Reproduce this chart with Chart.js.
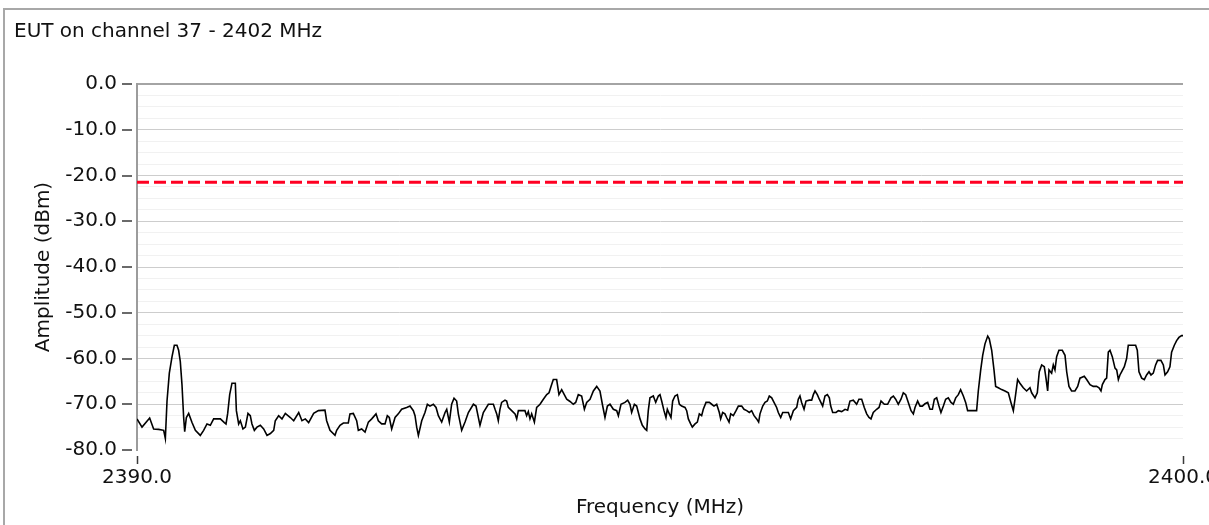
<!DOCTYPE html>
<html lang="en">
<head>
<meta charset="UTF-8">
<title>EUT on channel 37 - 2402 MHz</title>
<script src="https://cdn.jsdelivr.net/npm/chart.js"></script>
<style>
  html, body { margin: 0; padding: 0; background: #fff; overflow: hidden; }
  #wrap { position: relative; width: 1209px; height: 525px; overflow: hidden; }
  /* grey panel frame, only its top and left edges fall inside the window */
  #frame { position: absolute; left: 3px; top: 8px; width: 1300px; height: 600px; border: 2px solid #a8a8a8; pointer-events: none; }
  #spectrum { position: absolute; left: 0; top: 0; }
</style>
</head>
<body>
<div id="wrap">
  <div id="frame"></div>
  <canvas id="spectrum" width="1209" height="525"></canvas>
</div>
<script>
// sweep 2390 - 2400 MHz, restricted band edge
const freqMHz = [
  2390.000, 2390.048, 2390.121, 2390.159, 2390.207, 2390.255, 2390.271, 2390.287, 2390.309, 2390.335,
  2390.357, 2390.382, 2390.398, 2390.414, 2390.430, 2390.446, 2390.456, 2390.472, 2390.494, 2390.526,
  2390.558, 2390.605, 2390.637, 2390.669, 2390.701, 2390.733, 2390.797, 2390.835, 2390.851, 2390.867,
  2390.886, 2390.908, 2390.940, 2390.950, 2390.972, 2390.988, 2391.013, 2391.036, 2391.061, 2391.083,
  2391.099, 2391.122, 2391.147, 2391.179, 2391.211, 2391.243, 2391.275, 2391.307, 2391.322, 2391.354,
  2391.386, 2391.418, 2391.466, 2391.498, 2391.546, 2391.577, 2391.609, 2391.641, 2391.689,
  2391.734, 2391.797, 2391.813, 2391.845, 2391.893, 2391.909, 2391.941, 2391.973, 2392.020, 2392.036,
  2392.068, 2392.100, 2392.116, 2392.148, 2392.180, 2392.212, 2392.244, 2392.285, 2392.307, 2392.339,
  2392.371, 2392.393, 2392.412, 2392.435, 2392.467, 2392.498, 2392.530, 2392.578, 2392.610, 2392.642,
  2392.658, 2392.674, 2392.690, 2392.722, 2392.753, 2392.776, 2392.801, 2392.833, 2392.859, 2392.881,
  2392.913, 2392.945, 2392.961, 2392.986, 2393.008, 2393.031, 2393.056, 2393.072, 2393.104, 2393.136,
  2393.168, 2393.216, 2393.241, 2393.279, 2393.311,
  2393.359, 2393.407, 2393.423, 2393.439, 2393.454, 2393.470, 2393.486, 2393.518, 2393.534, 2393.550,
  2393.582, 2393.614, 2393.630, 2393.646, 2393.709, 2393.725, 2393.741, 2393.757, 2393.773, 2393.799,
  2393.821, 2393.853, 2393.885, 2393.917, 2393.939, 2393.958, 2393.980, 2394.012, 2394.034, 2394.060,
  2394.085, 2394.108, 2394.140, 2394.171, 2394.194, 2394.219, 2394.251, 2394.277, 2394.299, 2394.331,
  2394.363, 2394.395, 2394.426, 2394.449, 2394.474, 2394.497, 2394.522, 2394.554, 2394.586, 2394.602,
  2394.627, 2394.665, 2394.691, 2394.713, 2394.729, 2394.755, 2394.777, 2394.809, 2394.831, 2394.857,
  2394.873, 2394.888, 2394.904, 2394.936, 2394.959, 2394.984, 2395.000,
  2395.016, 2395.038, 2395.057, 2395.070, 2395.089, 2395.105, 2395.121, 2395.143, 2395.166, 2395.185,
  2395.207, 2395.239, 2395.255, 2395.271, 2395.293, 2395.309, 2395.335, 2395.357, 2395.376, 2395.398,
  2395.414, 2395.440, 2395.472, 2395.494, 2395.516, 2395.542, 2395.567, 2395.580, 2395.599, 2395.621,
  2395.637, 2395.660, 2395.676, 2395.701, 2395.727, 2395.749, 2395.781, 2395.803, 2395.829, 2395.854,
  2395.876, 2395.899, 2395.924, 2395.943, 2395.956, 2395.982, 2396.004, 2396.026, 2396.045, 2396.068,
  2396.090, 2396.115, 2396.131, 2396.154, 2396.173, 2396.205, 2396.227, 2396.249, 2396.275, 2396.307,
  2396.322, 2396.338, 2396.354, 2396.377, 2396.396, 2396.428, 2396.450, 2396.466, 2396.482, 2396.504,
  2396.523, 2396.555, 2396.577, 2396.600, 2396.619, 2396.632, 2396.651, 2396.683,
  2396.705, 2396.737, 2396.769, 2396.794, 2396.816, 2396.848, 2396.880, 2396.902, 2396.928, 2396.953,
  2396.976, 2396.998, 2397.017, 2397.039, 2397.071, 2397.094, 2397.113, 2397.145, 2397.176, 2397.208,
  2397.231, 2397.253, 2397.278, 2397.304, 2397.326, 2397.349, 2397.374, 2397.400, 2397.422, 2397.438,
  2397.463, 2397.486, 2397.508, 2397.533, 2397.559, 2397.581, 2397.604, 2397.623, 2397.645, 2397.667,
  2397.686, 2397.709, 2397.731, 2397.756, 2397.782, 2397.804, 2397.827, 2397.852, 2397.874, 2397.900,
  2397.922, 2397.941, 2397.980, 2398.027, 2398.043, 2398.066, 2398.085, 2398.107, 2398.133, 2398.148,
  2398.171, 2398.193, 2398.209, 2398.234, 2398.266, 2398.298,
  2398.330, 2398.355, 2398.378, 2398.394, 2398.419, 2398.441, 2398.473, 2398.505, 2398.537, 2398.553,
  2398.585, 2398.607, 2398.626, 2398.649, 2398.674, 2398.690, 2398.706, 2398.719, 2398.744, 2398.760,
  2398.776, 2398.792, 2398.814, 2398.846, 2398.872, 2398.888, 2398.910, 2398.935, 2398.967, 2398.993,
  2399.015, 2399.056, 2399.079, 2399.111, 2399.142, 2399.174, 2399.197, 2399.216, 2399.229, 2399.254,
  2399.270, 2399.286, 2399.302, 2399.324, 2399.350, 2399.366, 2399.382, 2399.397, 2399.413, 2399.439,
  2399.461, 2399.477, 2399.509, 2399.547, 2399.563, 2399.579, 2399.605, 2399.630, 2399.652, 2399.675,
  2399.694, 2399.716, 2399.738, 2399.757, 2399.789, 2399.812, 2399.828, 2399.853, 2399.875, 2399.891,
  2399.917, 2399.939, 2399.961, 2399.987, 2400.000
];

// measured peak level, dBm
const amplitudeDbm = [
  -73.2, -75.0, -73.0, -75.4, -75.5, -75.7, -77.5, -69.3, -63.2, -59.6,
  -57.1, -57.1, -58.2, -60.7, -65.7, -72.9, -76.0, -72.9, -72.0, -74.0,
  -75.7, -76.8, -75.7, -74.3, -74.6, -73.2, -73.2, -74.0, -74.3, -72.0,
  -67.9, -65.4, -65.4, -71.4, -74.3, -73.6, -75.4, -75.0, -72.0, -72.5,
  -74.3, -75.7, -75.0, -74.6, -75.4, -76.8, -76.4, -75.7, -73.6, -72.5,
  -73.2, -72.0, -72.9, -73.6, -71.8, -73.6, -73.2, -74.0, -72.0,
  -71.4, -71.3, -73.6, -75.7, -76.8, -75.7, -74.6, -74.1, -74.1, -72.1,
  -72.0, -73.6, -75.7, -75.4, -76.1, -73.9, -73.2, -72.1, -73.6, -74.3,
  -74.3, -72.5, -72.9, -75.4, -72.9, -72.1, -71.1, -70.7, -70.4, -71.4,
  -72.5, -75.0, -76.8, -73.6, -71.8, -70.0, -70.4, -70.0, -70.7, -72.5,
  -73.9, -71.8, -71.1, -73.9, -70.0, -68.7, -69.3, -72.1, -75.7, -73.9,
  -71.8, -70.0, -70.4, -74.6, -71.8,
  -70.0, -70.0, -71.1, -72.1, -73.6, -71.1, -69.6, -69.1, -69.3, -70.7,
  -71.4, -72.1, -73.2, -71.4, -71.4, -72.5, -71.6, -73.2, -72.1, -73.9,
  -70.7, -70.0, -68.9, -67.9, -67.5, -66.1, -64.6, -64.6, -67.9, -66.8,
  -67.9, -68.9, -69.4, -70.0, -69.6, -67.9, -68.2, -71.1, -69.6, -68.9,
  -67.1, -66.1, -67.1, -70.0, -72.9, -70.4, -70.0, -71.1, -71.4, -72.5,
  -70.0, -69.6, -69.1, -70.0, -71.8, -70.0, -70.4, -73.2, -74.6, -75.4,
  -75.7, -71.4, -68.6, -68.2, -69.6, -68.2, -67.9,
  -69.3, -71.4, -72.9, -71.1, -72.1, -72.9, -69.3, -68.2, -67.9, -70.0,
  -70.4, -70.7, -71.4, -73.2, -74.3, -75.0, -74.3, -73.9, -72.1, -72.5,
  -71.1, -69.6, -69.6, -70.0, -70.4, -70.0, -71.8, -73.2, -71.8, -72.1,
  -72.9, -73.9, -72.1, -72.5, -71.4, -70.4, -70.4, -71.1, -71.4, -71.8,
  -71.4, -72.5, -73.2, -73.9, -72.1, -70.4, -69.6, -69.3, -68.2, -68.6,
  -69.6, -70.7, -71.8, -72.9, -71.8, -71.8, -71.8, -73.2, -71.4, -70.7,
  -68.9, -68.2, -69.6, -71.1, -69.3, -69.1, -69.1, -67.9, -67.1, -67.9,
  -68.9, -70.4, -68.2, -67.9, -68.6, -70.4, -71.8, -71.8,
  -71.4, -71.6, -71.1, -71.3, -69.3, -69.1, -70.0, -68.9, -68.9, -70.7,
  -72.1, -72.9, -73.2, -71.8, -71.1, -70.7, -69.3, -70.0, -70.0, -68.6,
  -68.2, -68.9, -70.0, -68.9, -67.5, -67.9, -69.6, -71.4, -72.1, -70.7,
  -69.3, -70.4, -70.4, -69.9, -69.6, -71.1, -71.1, -68.9, -68.6, -70.4,
  -71.8, -70.4, -68.9, -68.6, -69.6, -70.0, -68.6, -67.9, -66.8, -68.2,
  -69.6, -71.4, -71.4, -71.4, -67.1, -62.5, -59.3, -56.8, -55.1, -55.7,
  -58.2, -62.5, -66.1, -66.4, -66.8, -67.1,
  -67.5, -69.6, -71.4, -68.9, -64.6, -65.4, -66.4, -67.1, -66.4, -67.5,
  -68.6, -67.5, -62.9, -61.4, -61.8, -64.3, -67.1, -62.5, -63.2, -61.4,
  -62.5, -59.6, -58.2, -58.2, -59.3, -62.9, -66.1, -67.1, -67.1, -66.1,
  -64.3, -63.9, -64.6, -65.7, -66.1, -66.1, -66.4, -67.1, -65.7, -64.6,
  -64.3, -58.6, -58.2, -59.6, -62.1, -62.5, -64.6, -63.6, -62.9, -61.8,
  -60.0, -57.1, -57.1, -57.1, -58.2, -62.9, -64.3, -64.6, -63.6, -62.9,
  -63.6, -63.2, -61.4, -60.4, -60.4, -61.4, -63.6, -62.9, -61.8, -58.6,
  -57.1, -56.1, -55.4, -55.0, -55.0
];

const limitDbm = -21.5;                 // limit line
const freqRange = [2390, 2400];         // x axis span, also the labelled ticks
const ampRange = [-80, 0];
const ampMajorTicks = [0, -10, -20, -30, -40, -50, -60, -70, -80];

Chart.defaults.font.family = "'DejaVu Sans', Verdana, sans-serif";
Chart.defaults.font.size = 20;
Chart.defaults.color = '#111';

// small dash marks beside the axes, a few px off the plot edge
const tickMarks = {
  id: 'tickMarks',
  afterDraw(chart) {
    const { ctx, chartArea, scales } = chart;
    ctx.save();
    ctx.strokeStyle = '#3a3a3a';
    ctx.lineWidth = 2;
    ctx.beginPath();
    ampMajorTicks.forEach(v => {
      const y = Math.round(scales.y.getPixelForValue(v));
      ctx.moveTo(chartArea.left - 15, y);
      ctx.lineTo(chartArea.left - 5, y);
    });
    ctx.lineWidth = 1.5;
    freqRange.forEach(v => {
      const x = Math.round(scales.x.getPixelForValue(v)) + 0.5;
      ctx.moveTo(x, chartArea.bottom + 6);
      ctx.lineTo(x, chartArea.bottom + 14);
    });
    ctx.stroke();
    ctx.restore();
  }
};

const ctx = document.getElementById('spectrum').getContext('2d');
new Chart(ctx, {
  type: 'line',
  data: {
    datasets: [
      {
        label: 'Peak',
        data: freqMHz.map((f, i) => ({ x: f, y: amplitudeDbm[i] })),
        borderColor: '#000',
        borderWidth: 1.6,
        pointRadius: 0,
        tension: 0
      },
      {
        label: 'Limit',
        data: freqRange.map(f => ({ x: f, y: limitDbm })),
        borderColor: '#ff0022',
        borderWidth: 3,
        borderDash: [12, 5],
        pointRadius: 0
      }
    ]
  },
  options: {
    responsive: false,
    animation: false,
    events: [],
    layout: { padding: { left: 14, right: 26, top: 0, bottom: 0 } },
    plugins: {
      legend: { display: false },
      tooltip: { enabled: false },
      title: {
        display: true,
        text: 'EUT on channel 37 - 2402 MHz',
        align: 'start',
        color: '#111',
        font: { size: 20, weight: 'normal' },
        padding: { top: 20, bottom: 40 }
      }
    },
    scales: {
      x: {
        type: 'linear',
        min: freqRange[0],
        max: freqRange[1],
        afterFit(s) { s.height = 75; s.paddingLeft = 0; s.paddingRight = 0; },
        border: { display: false },
        grid: { display: false, drawTicks: false },
        ticks: {
          stepSize: 10,
          padding: 16,
          maxRotation: 0,
          callback: v => v.toFixed(1)
        },
        title: {
          display: true,
          text: 'Frequency (MHz)',
          padding: { top: 0, bottom: 5 }
        }
      },
      y: {
        min: ampRange[0],
        max: ampRange[1],
        afterFit(s) { s.width = 123; },
        border: { display: true, color: '#9c9c9c', width: 2 },
        grid: {
          drawTicks: false,
          color: c => {
            const v = c.tick.value;
            if (v === 0) return '#a4a4a4';
            if (v === ampRange[0]) return 'rgba(0,0,0,0)';
            return v % 10 === 0 ? '#cdcdcd' : '#f1f1f1';
          },
          lineWidth: c => (c.tick.value === 0 ? 2 : 1)
        },
        ticks: {
          stepSize: 2.5,
          autoSkip: false,
          padding: 20,
          callback: v => (v % 10 === 0 ? v.toFixed(1) : '')
        },
        title: {
          display: true,
          text: 'Amplitude (dBm)',
          padding: { top: 18, bottom: 0 }
        }
      }
    }
  },
  plugins: [tickMarks]
});
</script>
</body>
</html>
